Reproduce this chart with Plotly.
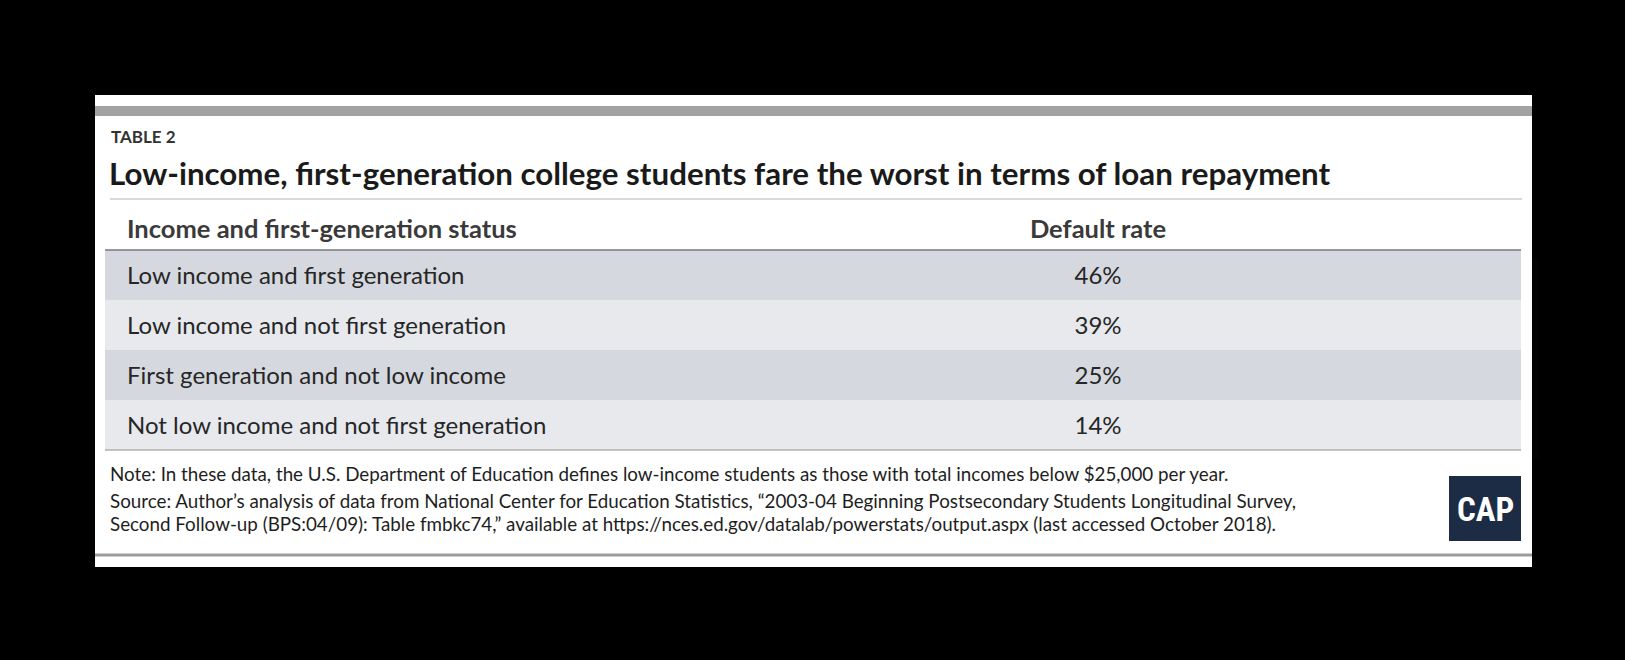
import plotly.graph_objects as go

# ---- data ----
table_label = "TABLE 2"
title = "Low-income, first-generation college students fare the worst in terms of loan repayment"
header_labels = ["Income and first-generation status", "Default rate"]
categories = [
    "Low income and first generation",
    "Low income and not first generation",
    "First generation and not low income",
    "Not low income and not first generation",
]
default_rates = [46, 39, 25, 14]
note_lines = [
    "Note: In these data, the U.S. Department of Education defines low-income students as those with total incomes below $25,000 per year.",
    "Source: Author’s analysis of data from National Center for Education Statistics, “2003-04 Beginning Postsecondary Students Longitudinal Survey,",
    "Second Follow-up (BPS:04/09): Table fmbkc74,” available at https://nces.ed.gov/datalab/powerstats/output.aspx (last accessed October 2018).",
]
logo_text = "CAP"

# ---- geometry helpers (pixel -> paper) ----
W, H = 1625, 660
def px(x):
    return x / W
def py(y):
    return 1 - y / H

FONT = "Lato, 'Open Sans', sans-serif"
row_fill_a = "#d5d9df"
row_fill_b = "#e7e9ed"

tbl_left, tbl_right = 105, 1521
tbl_top = 200
header_h = 50
row_h = 50
tbl_bottom = tbl_top + header_h + row_h * len(categories)
text_dy = 8      # table text sits at top of cells; shift text down to centre it in the bands
header_up = 3    # header text sits a little higher than the body text

fig = go.Figure()

fig.add_trace(go.Table(
    domain=dict(x=[px(tbl_left), px(tbl_right)],
                y=[py(tbl_bottom + text_dy), py(tbl_top + text_dy - header_up)]),
    columnwidth=[14, 556, 846],
    header=dict(
        values=["", "<b>" + header_labels[0] + "</b>", "<b>" + header_labels[1] + "</b>"],
        align=["left", "left", "center"],
        fill_color="rgba(0,0,0,0)",
        line=dict(width=0, color="rgba(0,0,0,0)"),
        font=dict(family=FONT, size=25.5, color="#3a3a3a"),
        height=header_h + header_up,
    ),
    cells=dict(
        values=[["" for _ in categories], categories, [f"{v}%" for v in default_rates]],
        align=["left", "left", "center"],
        fill_color="rgba(0,0,0,0)",
        line=dict(width=0, color="rgba(0,0,0,0)"),
        font=dict(family=FONT, size=24, color="#262626"),
        height=row_h,
    ),
))

shapes = [
    # white panel
    dict(type="rect", xref="paper", yref="paper", x0=px(95), x1=px(1532), y0=py(567), y1=py(95),
         fillcolor="#ffffff", line=dict(width=0), layer="below"),
    # top gray bar
    dict(type="rect", xref="paper", yref="paper", x0=px(95), x1=px(1532), y0=py(116), y1=py(106),
         fillcolor="#a2a2a2", line=dict(width=0), layer="below"),
]
# alternating row bands
for i, _ in enumerate(categories):
    y0 = tbl_top + header_h + i * row_h
    shapes.append(dict(type="rect", xref="paper", yref="paper",
                       x0=px(tbl_left), x1=px(tbl_right), y0=py(y0 + row_h), y1=py(y0),
                       fillcolor=row_fill_a if i % 2 == 0 else row_fill_b,
                       line=dict(width=0), layer="below"))
shapes += [
    # title underline
    dict(type="line", xref="paper", yref="paper", x0=px(110), x1=px(1522), y0=py(199), y1=py(199),
         line=dict(color="#cdcdcd", width=1.5)),
    # header underline
    dict(type="line", xref="paper", yref="paper", x0=px(tbl_left), x1=px(tbl_right),
         y0=py(tbl_top + header_h), y1=py(tbl_top + header_h), line=dict(color="#7a7a7a", width=1.5)),
    # table bottom line
    dict(type="line", xref="paper", yref="paper", x0=px(tbl_left), x1=px(tbl_right),
         y0=py(tbl_bottom), y1=py(tbl_bottom), line=dict(color="#b0b0b0", width=1.5)),
    # bottom panel rule
    dict(type="line", xref="paper", yref="paper", x0=px(95), x1=px(1532), y0=py(555), y1=py(555),
         line=dict(color="#9c9c9c", width=3)),
    # CAP logo box
    dict(type="rect", xref="paper", yref="paper", x0=px(1449), x1=px(1521), y0=py(541), y1=py(476),
         fillcolor="#1d2c45", line=dict(width=0)),
]

annotations = [
    dict(text="<b>" + table_label + "</b>", x=px(109), y=py(137), xref="paper", yref="paper",
         xanchor="left", yanchor="middle", showarrow=False,
         font=dict(family=FONT, size=17, color="#333333")),
    dict(text="<b>" + title + "</b>", x=px(107), y=py(173), xref="paper", yref="paper",
         xanchor="left", yanchor="middle", showarrow=False,
         font=dict(family=FONT, size=31.3, color="#1a1a1a")),
    dict(text="<b>" + logo_text + "</b>", x=px(1485), y=py(509), xref="paper", yref="paper",
         xanchor="center", yanchor="middle", showarrow=False,
         font=dict(family="'Liberation Sans Narrow', 'Roboto Condensed', Roboto, sans-serif", size=33, color="#ffffff")),
]
for line, yy in zip(note_lines, [473, 500, 523]):
    annotations.append(dict(text=line, x=px(108), y=py(yy), xref="paper", yref="paper",
                            xanchor="left", yanchor="middle", showarrow=False,
                            font=dict(family=FONT, size=18.8, color="#1e1e1e")))

fig.update_layout(
    width=W, height=H,
    margin=dict(l=0, r=0, t=0, b=0),
    paper_bgcolor="#000000",
    plot_bgcolor="#000000",
    shapes=shapes,
    annotations=annotations,
    showlegend=False,
)

fig.write_html("out.html")
